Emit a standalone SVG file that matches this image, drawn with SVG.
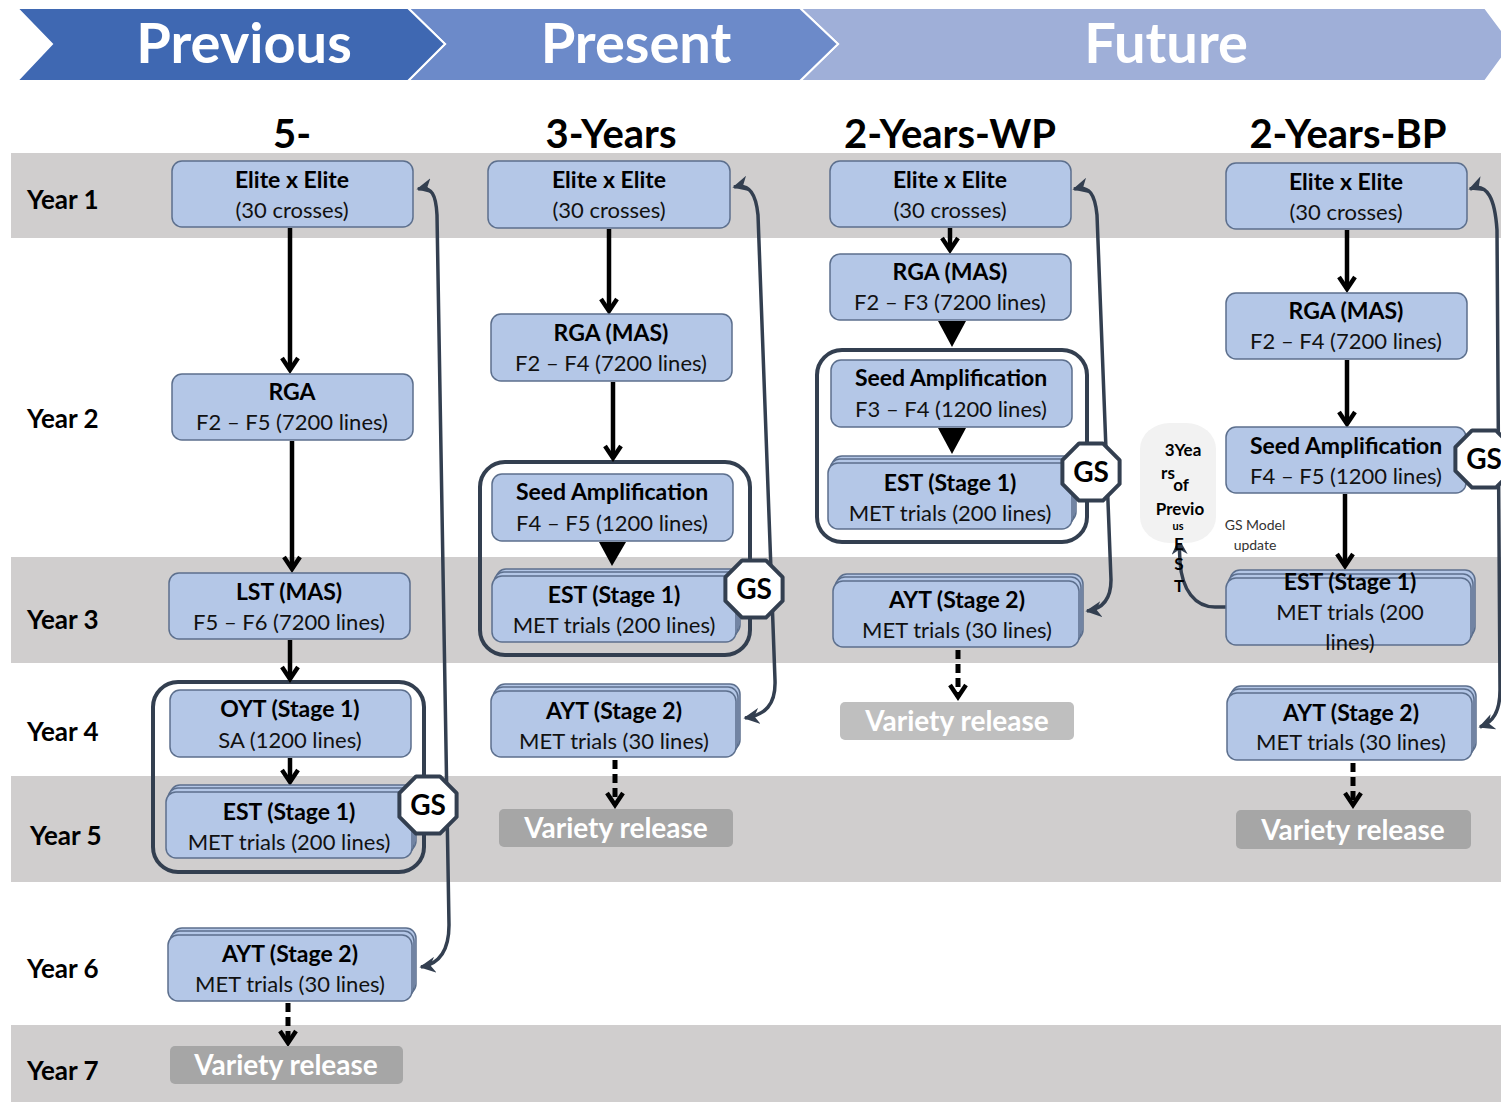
<svg xmlns="http://www.w3.org/2000/svg" width="1501" height="1102" viewBox="0 0 1501 1102">
<style>
text{font-family:Lato,"Liberation Sans",sans-serif;}
.box{fill:#B4C7E7;stroke:#5C6F8D;stroke-width:1.5;}
.t1{font-size:23px;font-weight:bold;text-anchor:middle;fill:#000;}
.t2{font-size:22px;text-anchor:middle;fill:#111;}
.yr{font-size:26px;font-weight:bold;fill:#000;}
.hd{font-size:40px;font-weight:bold;text-anchor:middle;fill:#000;}
.hdr{font-size:56px;font-weight:bold;text-anchor:middle;fill:#fff;}
.vr{font-size:28px;font-weight:bold;text-anchor:middle;fill:#fff;}
.band{fill:#D0CECE;}
.grp{fill:none;stroke:#333F50;stroke-width:4;}
.arr{stroke:#000;stroke-width:4.5;fill:none;marker-end:url(#v);}
.dash{stroke:#000;stroke-width:5;fill:none;stroke-dasharray:9 5;marker-end:url(#v);}
.fb{stroke:#333F50;stroke-width:3.5;fill:none;marker-start:url(#st);marker-end:url(#st);}
.tri{fill:#000;}
</style>
<defs>
<marker id="v" viewBox="0 0 10 10" refX="8" refY="5" markerWidth="20" markerHeight="20" markerUnits="userSpaceOnUse" orient="auto">
<path d="M2,1 L8,5 L2,9" fill="none" stroke="#000" stroke-width="2.2"/>
</marker>
<marker id="st" viewBox="0 0 10 10" refX="9" refY="5" markerWidth="16" markerHeight="16" markerUnits="userSpaceOnUse" orient="auto-start-reverse">
<path d="M0,0 L10,5 L0,10 L3,5 z" fill="#333F50"/>
</marker>
<g id="gs">
<polygon points="28.6,11.9 11.9,28.6 -11.9,28.6 -28.6,11.9 -28.6,-11.9 -11.9,-28.6 11.9,-28.6 28.6,-11.9" fill="#fff" stroke="#333F50" stroke-width="4" stroke-linejoin="round"/>
<text x="0" y="10" style="font-size:28px;font-weight:bold;text-anchor:middle;fill:#000">GS</text>
</g>
</defs>

<!-- header -->
<g id="header">
<polygon points="800,8 1485,8 1512,44 1485,81 800,81 838,44" fill="#9FAFD8" stroke="#fff" stroke-width="2"/>
<polygon points="408,8 800,8 838,44 800,81 408,81 445,44" fill="#6C8AC9" stroke="#fff" stroke-width="2"/>
<polygon points="17,8 408,8 445,44 408,81 17,81 52,44" fill="#3F68B2" stroke="#fff" stroke-width="2"/>
<text class="hdr" x="244" y="63">Previous</text>
<text class="hdr" x="636" y="63">Present</text>
<text class="hdr" x="1166" y="63">Future</text>
</g>

<!-- bands -->
<g id="bands">
<rect class="band" x="11" y="153" width="1490" height="85"/>
<rect class="band" x="11" y="557" width="1490" height="106"/>
<rect class="band" x="11" y="776" width="1490" height="106"/>
<rect class="band" x="11" y="1025" width="1490" height="77"/>
</g>

<g id="years">
<text class="yr" x="27" y="209">Year 1</text>
<text class="yr" x="27" y="428">Year 2</text>
<text class="yr" x="27" y="629">Year 3</text>
<text class="yr" x="27" y="741">Year 4</text>
<text class="yr" x="30" y="845">Year 5</text>
<text class="yr" x="27" y="978">Year 6</text>
<text class="yr" x="27" y="1080">Year 7</text>
</g>

<g id="headings">
<text class="hd" x="292" y="148">5-</text>
<text class="hd" x="611" y="148">3-Years</text>
<text class="hd" x="950" y="148">2-Years-WP</text>
<text class="hd" x="1348" y="148">2-Years-BP</text>
</g>

<!-- group outlines -->
<g id="groups">
<rect class="grp" x="153" y="682" width="271" height="190" rx="25"/>
<rect class="grp" x="480" y="462" width="270" height="193" rx="25"/>
<rect class="grp" x="817" y="350" width="270" height="192" rx="25"/>
</g>

<!-- connectors -->
<g id="connectors">
<line class="arr" x1="290" y1="228" x2="290" y2="370"/>
<line class="arr" x1="292" y1="441" x2="292" y2="569"/>
<line class="arr" x1="290" y1="640" x2="290" y2="679"/>
<line class="arr" x1="290" y1="758" x2="290" y2="782"/>
<line class="dash" x1="288" y1="1003" x2="288" y2="1043"/>
<line class="arr" x1="609" y1="229" x2="609" y2="311"/>
<line class="arr" x1="613" y1="382" x2="613" y2="458"/>
<polygon class="tri" points="599,542 626,542 612,566"/>
<line class="dash" x1="615" y1="760" x2="615" y2="805"/>
<line class="arr" x1="950" y1="228" x2="950" y2="250"/>
<polygon class="tri" points="938,321 966,321 952,347"/>
<polygon class="tri" points="938,428 966,428 952,454"/>
<line class="dash" x1="958" y1="650" x2="958" y2="697"/>
<line class="arr" x1="1347" y1="230" x2="1347" y2="289"/>
<line class="arr" x1="1347" y1="360" x2="1347" y2="424"/>
<line class="arr" x1="1345" y1="494" x2="1345" y2="566"/>
<line class="dash" x1="1353" y1="763" x2="1353" y2="805"/>
<path class="fb" d="M418,189 C432,186 436,195 437,215 L449,925 C449,950 440,964 421,967"/>
<path class="fb" d="M734,187 C750,183 756,195 758,215 L775,680 C776,705 765,715 745,718"/>
<path class="fb" d="M1074,189 C1090,185 1095,195 1097,215 L1111,580 C1111,600 1102,609 1087,611"/>
<path class="fb" d="M1470,189 C1488,182 1495,200 1497,230 L1500,690 C1500,712 1493,722 1480,727"/>
<path d="M1226,607 L1215,607 C1195,607 1182,590 1180,562 L1179,540" stroke="#333F50" stroke-width="3.5" fill="none" marker-end="url(#st)"/>
</g>

<!-- column 1 -->
<g id="c1-elite"><rect class="box" x="172" y="161" width="241" height="66" rx="10"/><text class="t1" x="292" y="188">Elite x Elite</text><text class="t2" x="292" y="218">(30 crosses)</text></g>
<g id="c1-rga"><rect class="box" x="172" y="374" width="241" height="66" rx="10"/><text class="t1" x="292" y="400">RGA</text><text class="t2" x="292" y="430">F2 – F5 (7200 lines)</text></g>
<g id="c1-lst"><rect class="box" x="169" y="573" width="241" height="66" rx="10"/><text class="t1" x="289" y="600">LST (MAS)</text><text class="t2" x="289" y="630">F5 – F6 (7200 lines)</text></g>
<g id="c1-oyt"><rect class="box" x="170" y="690" width="241" height="67" rx="10"/><text class="t1" x="290" y="717">OYT (Stage 1)</text><text class="t2" x="290" y="748">SA (1200 lines)</text></g>
<g id="c1-est"><rect class="box" x="170" y="785" width="246" height="66" rx="10"/><rect class="box" x="168" y="788" width="246" height="66" rx="10"/><rect class="box" x="166" y="792" width="246" height="66" rx="10"/><text class="t1" x="289" y="820">EST (Stage 1)</text><text class="t2" x="289" y="850">MET trials (200 lines)</text></g>
<g id="c1-gs"><use href="#gs" x="428" y="805"/></g>
<g id="c1-ayt"><rect class="box" x="172" y="928" width="244" height="66" rx="10"/><rect class="box" x="170" y="931" width="244" height="66" rx="10"/><rect class="box" x="168" y="935" width="244" height="66" rx="10"/><text class="t1" x="290" y="962">AYT (Stage 2)</text><text class="t2" x="290" y="992">MET trials (30 lines)</text></g>
<g id="c1-vr"><rect x="170" y="1046" width="233" height="38" rx="5" fill="#A6A6A6"/><text class="vr" x="286" y="1075">Variety release</text></g>

<!-- column 2 -->
<g id="c2-elite"><rect class="box" x="488" y="161" width="242" height="67" rx="10"/><text class="t1" x="609" y="188">Elite x Elite</text><text class="t2" x="609" y="218">(30 crosses)</text></g>
<g id="c2-rga"><rect class="box" x="491" y="314" width="241" height="67" rx="10"/><text class="t1" x="611" y="341">RGA (MAS)</text><text class="t2" x="611" y="371">F2 – F4 (7200 lines)</text></g>
<g id="c2-seed"><rect class="box" x="492" y="474" width="241" height="67" rx="10"/><text class="t1" x="612" y="500">Seed Amplification</text><text class="t2" x="612" y="531">F4 – F5 (1200 lines)</text></g>
<g id="c2-est"><rect class="box" x="496" y="569" width="244" height="66" rx="10"/><rect class="box" x="494" y="572" width="244" height="66" rx="10"/><rect class="box" x="492" y="576" width="244" height="66" rx="10"/><text class="t1" x="614" y="603">EST (Stage 1)</text><text class="t2" x="614" y="633">MET trials (200 lines)</text></g>
<g id="c2-gs"><use href="#gs" x="754" y="589"/></g>
<g id="c2-ayt"><rect class="box" x="495" y="684" width="245" height="66" rx="10"/><rect class="box" x="493" y="687" width="245" height="66" rx="10"/><rect class="box" x="491" y="691" width="245" height="66" rx="10"/><text class="t1" x="614" y="719">AYT (Stage 2)</text><text class="t2" x="614" y="749">MET trials (30 lines)</text></g>
<g id="c2-vr"><rect x="499" y="809" width="234" height="38" rx="5" fill="#A6A6A6"/><text class="vr" x="616" y="838">Variety release</text></g>

<!-- column 3 -->
<g id="c3-elite"><rect class="box" x="830" y="161" width="241" height="66" rx="10"/><text class="t1" x="950" y="188">Elite x Elite</text><text class="t2" x="950" y="218">(30 crosses)</text></g>
<g id="c3-rga"><rect class="box" x="830" y="254" width="241" height="66" rx="10"/><text class="t1" x="950" y="280">RGA (MAS)</text><text class="t2" x="950" y="310">F2 – F3 (7200 lines)</text></g>
<g id="c3-seed"><rect class="box" x="831" y="360" width="241" height="67" rx="10"/><text class="t1" x="951" y="386">Seed Amplification</text><text class="t2" x="951" y="417">F3 – F4 (1200 lines)</text></g>
<g id="c3-est"><rect class="box" x="832" y="456" width="244" height="66" rx="10"/><rect class="box" x="830" y="459" width="244" height="66" rx="10"/><rect class="box" x="828" y="463" width="244" height="66" rx="10"/><text class="t1" x="950" y="491">EST (Stage 1)</text><text class="t2" x="950" y="521">MET trials (200 lines)</text></g>
<g id="c3-gs"><use href="#gs" x="1091" y="472"/></g>
<g id="c3-ayt"><rect class="box" x="837" y="574" width="246" height="66" rx="10"/><rect class="box" x="835" y="577" width="246" height="66" rx="10"/><rect class="box" x="833" y="581" width="246" height="66" rx="10"/><text class="t1" x="957" y="608">AYT (Stage 2)</text><text class="t2" x="957" y="638">MET trials (30 lines)</text></g>
<g id="c3-vr"><rect x="840" y="702" width="234" height="38" rx="5" fill="#BFBFBF"/><text class="vr" x="957" y="731">Variety release</text></g>

<!-- column 4 -->
<g id="c4-elite"><rect class="box" x="1226" y="163" width="241" height="66" rx="10"/><text class="t1" x="1346" y="190">Elite x Elite</text><text class="t2" x="1346" y="220">(30 crosses)</text></g>
<g id="c4-rga"><rect class="box" x="1226" y="293" width="241" height="66" rx="10"/><text class="t1" x="1346" y="319">RGA (MAS)</text><text class="t2" x="1346" y="349">F2 – F4 (7200 lines)</text></g>
<g id="c4-seed"><rect class="box" x="1226" y="427" width="240" height="66" rx="10"/><text class="t1" x="1346" y="454">Seed Amplification</text><text class="t2" x="1346" y="484">F4 – F5 (1200 lines)</text></g>
<g id="c4-gs"><use href="#gs" x="1484" y="459"/></g>
<g id="c4-est"><rect class="box" x="1230" y="570" width="245" height="67" rx="10"/><rect class="box" x="1228" y="574" width="245" height="67" rx="10"/><rect class="box" x="1226" y="578" width="245" height="67" rx="10"/><text class="t1" x="1350" y="590">EST (Stage 1)</text><text class="t2" x="1350" y="620">MET trials (200</text><text class="t2" x="1350" y="650">lines)</text></g>
<g id="c4-ayt"><rect class="box" x="1231" y="686" width="245" height="67" rx="10"/><rect class="box" x="1229" y="689" width="245" height="67" rx="10"/><rect class="box" x="1227" y="693" width="245" height="67" rx="10"/><text class="t1" x="1351" y="721">AYT (Stage 2)</text><text class="t2" x="1351" y="750">MET trials (30 lines)</text></g>
<g id="c4-vr"><rect x="1236" y="810" width="235" height="39" rx="5" fill="#A6A6A6"/><text class="vr" x="1353" y="840">Variety release</text></g>

<!-- GS model update -->
<g id="prev-est">
<rect x="1140" y="423" width="76" height="120" rx="30" ry="26" fill="#F2F2F2"/>
<g style="font-size:17px;font-weight:bold;text-anchor:middle;fill:#000">
<text x="1183" y="456">3Yea</text>
<text x="1168" y="479">rs</text>
<text x="1181" y="491">of</text>
<text x="1180" y="515">Previo</text>
<text x="1178" y="530" style="font-size:11px">us</text>
<text x="1179" y="550">E</text>
<text x="1179" y="570">S</text>
<text x="1179" y="592">T</text>
</g>
</g>
<g id="gs-update">
<text x="1255" y="530" style="font-size:14px;text-anchor:middle;fill:#333">GS Model</text>
<text x="1255" y="550" style="font-size:14px;text-anchor:middle;fill:#333">update</text>
</g>
</svg>
